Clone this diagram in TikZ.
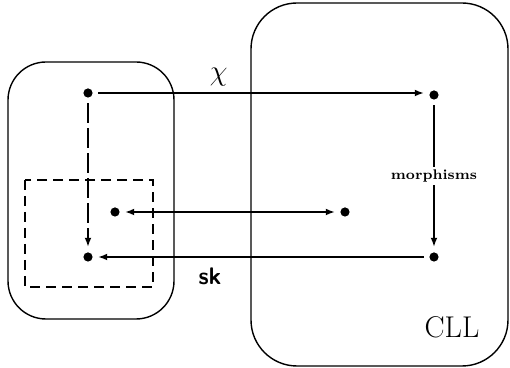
\documentclass[tikz,border=0pt]{standalone}
\usetikzlibrary{arrows.meta}

\tikzset{
  bod/.style={circle, fill, inner sep=0pt, minimum size=4.6pt, outer sep=2.8pt},
  sipka/.style={line width=0.7pt, -{Latex[length=4.5pt,width=3.4pt]}},
}

\begin{document}
\begin{tikzpicture}[x=0.5pt, y=-0.5pt, line width=0.7pt]
        \useasboundingbox (0,0) rectangle (510,368);

        % Levý a pravý zaoblený rámeček
        \draw[rounded corners=19pt] (8,62) rectangle (174,319);
        \draw[rounded corners=23pt] (251,3) rectangle (508,366);

        % Čárkovaný podrámeček
        \draw[dash pattern=on 5pt off 3pt] (25,180) rectangle (153,287);

        % Body
        \node[bod] (lh) at (88,93) {};
        \node[bod] (ld) at (88,257) {};
        \node[bod] (lm) at (115,212) {};
        \node[bod] (pm) at (345,212) {};
        \node[bod] (ph) at (434,95) {};
        \node[bod] (pd) at (434,257) {};

        % Šipky
        \draw[sipka] (lh) -- (lh -| ph.west) node[pos=0.37, above=0pt] {\Large$\chi$};
        \draw[sipka, dash pattern=on 10pt off 2.5pt] (lh) -- (ld);
        \draw[sipka, {Latex[length=4.5pt,width=3.4pt]}-{Latex[length=4.5pt,width=3.4pt]}] (lm) -- (pm);
        \draw[sipka] (ph) -- (pd)
          node[midway, fill=white, inner sep=1.5pt, font=\scriptsize\bfseries] {morphisms};
        \draw[sipka] (pd) -- (ld);

        % Popisky
        \node[font=\large\sffamily\bfseries] (sk) at (210,276) {sk};
        \node[font=\fontsize{15}{18}\selectfont] (cll) at (452,327) {CLL};
    \end{tikzpicture}
\end{document}
